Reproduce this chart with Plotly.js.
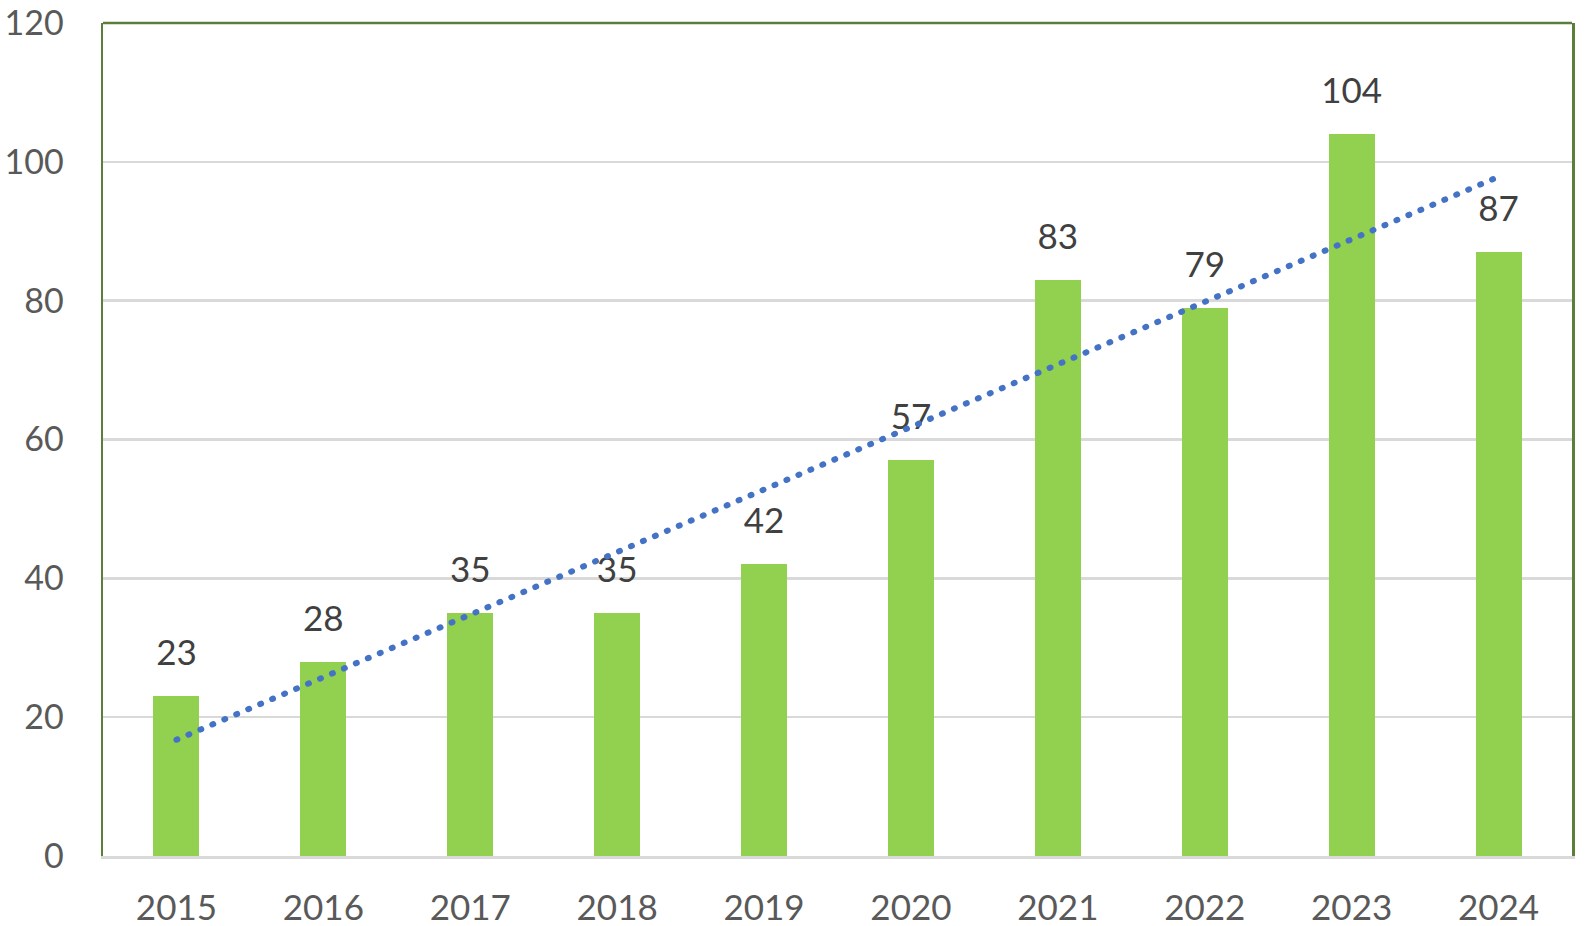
<!DOCTYPE html>
<html>
<head>
<meta charset="utf-8">
<script src="https://cdn.plot.ly/plotly-3.0.1.min.js"></script>
<style>
html,body{margin:0;padding:0;background:#fff;}
#chart{width:1590px;height:926px;}
</style>
</head>
<body>
<div id="chart"></div>
<script>
// Data
const years = ["2015","2016","2017","2018","2019","2020","2021","2022","2023","2024"];
const counts = [23, 28, 35, 35, 42, 57, 83, 79, 104, 87];
const yTicks = [0, 20, 40, 60, 80, 100, 120];

// Linear trendline (least squares) computed from the data, as in the source chart
const n = counts.length;
const xs = counts.map((_, i) => i + 1);
const mx = xs.reduce((a, b) => a + b, 0) / n;
const my = counts.reduce((a, b) => a + b, 0) / n;
let sxy = 0, sxx = 0;
for (let i = 0; i < n; i++) { sxy += (xs[i] - mx) * (counts[i] - my); sxx += (xs[i] - mx) ** 2; }
const slope = sxy / sxx;
const intercept = my - slope * mx;
const trend = xs.map(x => intercept + slope * x);

const FONT = "Lato, 'Open Sans', sans-serif";

const traces = [
  {
    type: "bar",
    x: years,
    y: counts,
    width: 0.313,
    marker: { color: "#92D050" },
    hoverinfo: "skip",
    showlegend: false
  },
  {
    type: "scatter",
    mode: "markers+text",
    x: years,
    y: counts,
    text: counts.map(String),
    textposition: "top center",
    textfont: { family: FONT, size: 35, color: "#404040" },
    marker: { size: 34, opacity: 0 },
    hoverinfo: "skip",
    showlegend: false,
    cliponaxis: false
  },
  {
    type: "scatter",
    mode: "lines",
    x: years,
    y: trend,
    line: { color: "#4472C4", width: 6, dash: "1px,12px" },
    hoverinfo: "skip",
    showlegend: false
  }
];

const layout = {
  width: 1590,
  height: 926,
  margin: { l: 103, r: 18, t: 23, b: 70 },
  paper_bgcolor: "#ffffff",
  plot_bgcolor: "#ffffff",
  font: { family: FONT, color: "#595959" },
  bargap: 0,
  xaxis: {
    type: "category",
    range: [-0.5, 9.5],
    autorange: false,
    showgrid: false,
    showline: true,
    linecolor: "#D9D9D9",
    linewidth: 2.5,
    ticks: "",
    tickfont: { family: FONT, size: 35, color: "#595959" },
    ticklabelstandoff: 19,
    zeroline: false,
    fixedrange: true
  },
  yaxis: {
    range: [0, 120],
    autorange: false,
    tickvals: yTicks,
    ticktext: yTicks.map(String),
    showgrid: true,
    gridcolor: "#D9D9D9",
    gridwidth: 2.5,
    showline: true,
    linecolor: "#5B7F3B",
    linewidth: 2.5,
    mirror: true,
    ticks: "",
    tickfont: { family: FONT, size: 34, color: "#595959" },
    ticklabelstandoff: 30,
    zeroline: false,
    fixedrange: true
  },
  shapes: [
    {
      type: "line", xref: "paper", yref: "paper",
      x0: 0, x1: 1, y0: 1, y1: 1,
      line: { color: "#5B7F3B", width: 2.5 },
      layer: "above"
    }
  ]
};

Plotly.newPlot("chart", traces, layout, { staticPlot: true, displayModeBar: false }).then(() => {
  document.querySelectorAll(".scatterlayer .js-line").forEach(p => {
    p.style.strokeLinecap = "round";
  });
});
</script>
</body>
</html>
